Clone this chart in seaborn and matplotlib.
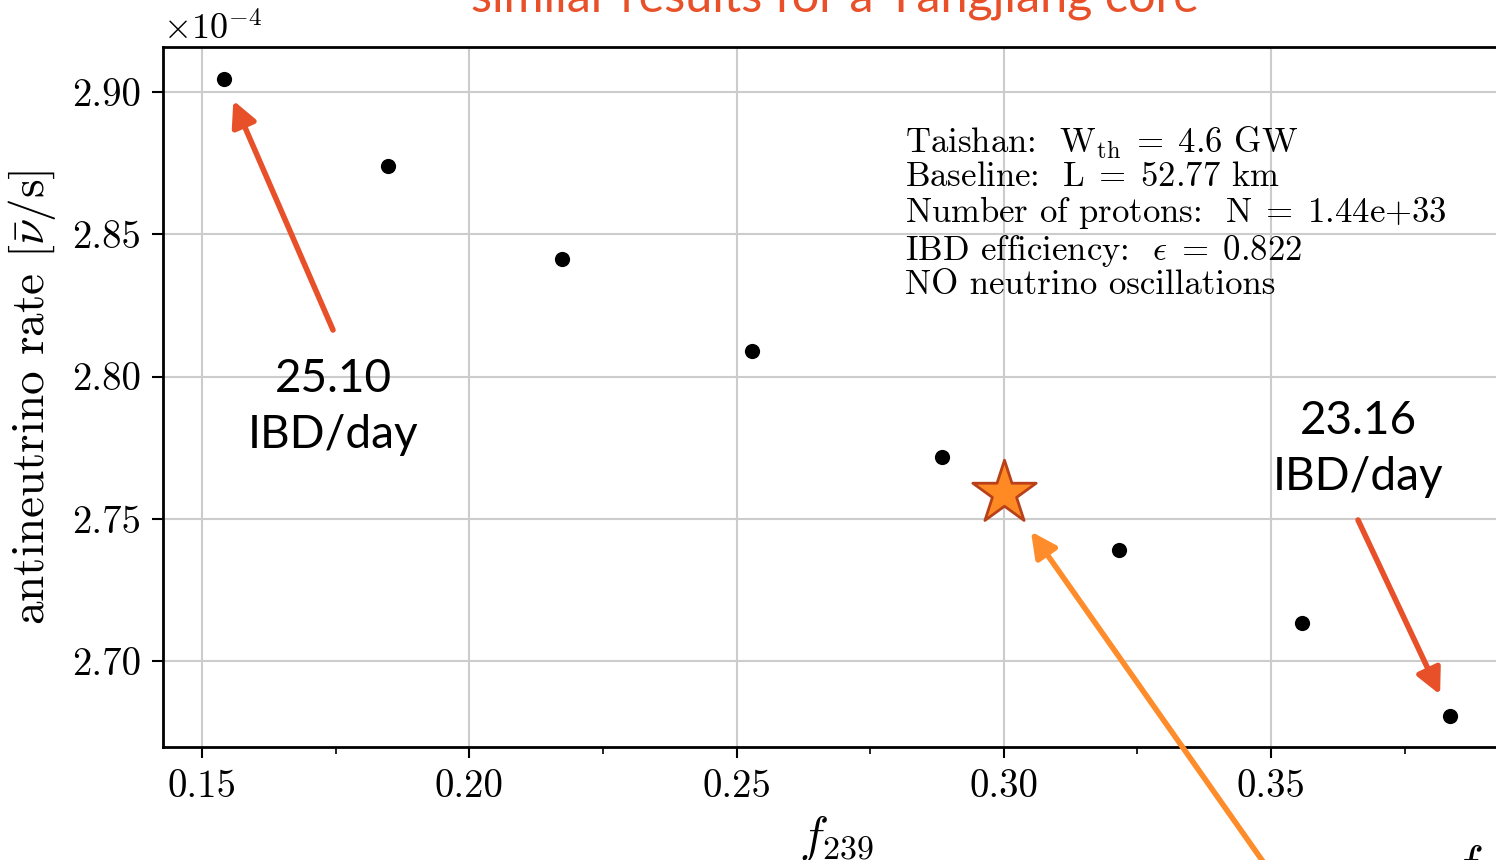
import numpy as np
import pandas as pd
import seaborn as sns
import matplotlib
matplotlib.use("Agg")
import matplotlib.pyplot as plt
from matplotlib.ticker import MultipleLocator

# ---- data ----
f239 = [0.1541, 0.1848, 0.2174, 0.2528, 0.2884, 0.3215, 0.3558, 0.3835]
rate_e4 = [2.9046, 2.8739, 2.8412, 2.8088, 2.7718, 2.7391, 2.7134, 2.6807]
star_f239 = [0.300]
star_rate_e4 = [2.7591]
x_ticks = [0.15, 0.20, 0.25, 0.30, 0.35]
y_ticks = [2.70, 2.75, 2.80, 2.85, 2.90]
label_first = "25.10\nIBD/day"
label_last = "23.16\nIBD/day"
title_text = "similar results for a Yangjiang core"
info_lines = [
    r"Taishan:  $\mathrm{W_{th}}\;=\;4.6$ GW",
    r"Baseline:  $\mathrm{L}\;=\;52.77$ km",
    r"Number of protons:  $\mathrm{N}\;=\;1.44\mathrm{e}{+}33$",
    r"IBD efficiency:  $\epsilon\;=\;0.822$",
    r"NO neutrino oscillations",
]

df = pd.DataFrame({"f239": f239, "rate": np.array(rate_e4) * 1e-4})
star = pd.DataFrame({"f239": star_f239, "rate": np.array(star_rate_e4) * 1e-4})

sns.set_theme(style="whitegrid")
plt.rcParams.update({
    "font.family": ["cmr10"],
    "mathtext.fontset": "cm",
    "axes.formatter.use_mathtext": True,
    "axes.unicode_minus": False,
    "text.color": "black",
    "axes.labelcolor": "black",
    "xtick.color": "black",
    "ytick.color": "black",
})

W, H = 1496, 860
fig = plt.figure(figsize=(W / 100, H / 100), dpi=100)
left, right, top, bottom = 163, 1510, 47, 747
ax = fig.add_axes([left / W, 1 - bottom / H, (right - left) / W, (bottom - top) / H])

sns.scatterplot(data=df, x="f239", y="rate", ax=ax, color="black", s=120,
                edgecolor="black", linewidth=0, zorder=3)
sns.scatterplot(data=star, x="f239", y="rate", ax=ax, marker="*", s=2300,
                color="#FF8A24", edgecolor="#B8401A", linewidth=2, zorder=4)

ax.set_xlim(0.1427, 0.3947)
ax.set_ylim(2.6698e-4, 2.9158e-4)
ax.set_xticks(x_ticks)
ax.set_xticklabels([f"{v:.2f}" for v in x_ticks])
ax.set_yticks(np.array(y_ticks) * 1e-4)
ax.set_yticklabels([f"{v:.2f}" for v in y_ticks])
ax.xaxis.set_minor_locator(MultipleLocator(0.025))
ax.text(0.0, 1.001, r"$\times10^{-4}$", transform=ax.transAxes, fontsize=26,
        ha="left", va="bottom")

ax.grid(True, which="major", color="#cccccc", lw=1.5)
ax.grid(False, which="minor")
ax.set_facecolor("white")
for s in ax.spines.values():
    s.set_color("black")
    s.set_linewidth(2)
ax.tick_params(axis="both", which="major", direction="out", length=8, width=1.5,
               color="black", labelsize=28, pad=8, bottom=True, left=True)
ax.tick_params(axis="x", which="minor", direction="out", length=5, width=1.2,
               color="black", bottom=True)

ax.set_xlabel(r"$f_{239}$", fontsize=35, labelpad=6)
ax.set_ylabel(r"antineutrino rate $[\bar{\nu}/\mathrm{s}]$", fontsize=34, labelpad=10)

ax.text(0.551, 0.889, "\n".join(info_lines), fontsize=25, ha="left", va="top",
        linespacing=1.04, transform=ax.transAxes, zorder=5)

red = "#E8502A"
orange = "#FF8C2A"
ax.annotate("", xy=(f239[0], rate_e4[0] * 1e-4), xytext=(333, H - 330),
            textcoords="figure pixels",
            arrowprops=dict(arrowstyle="-|>", color=red, lw=4, mutation_scale=38,
                            shrinkA=0, shrinkB=17), annotation_clip=False)
fig.text(333 / W, 1 - 407 / H, label_first, family="Lato", fontsize=33,
         ha="center", va="center", linespacing=1.4, color="black")
ax.annotate("", xy=(f239[-1], rate_e4[-1] * 1e-4), xytext=(1358, H - 520),
            textcoords="figure pixels",
            arrowprops=dict(arrowstyle="-|>", color=red, lw=4, mutation_scale=38,
                            shrinkA=0, shrinkB=17), annotation_clip=False)
fig.text(1358 / W, 1 - 449 / H, label_last, family="Lato", fontsize=33,
         ha="center", va="center", linespacing=1.4, color="black")
ax.annotate("", xy=(star_f239[0], star_rate_e4[0] * 1e-4), xytext=(1290, -40),
            textcoords="figure pixels",
            arrowprops=dict(arrowstyle="-|>", color=orange, lw=4, mutation_scale=38,
                            shrinkA=0, shrinkB=34), annotation_clip=False)

fig.text(835 / W, 1 - 12 / H, title_text, family="Lato", fontsize=35, color=red,
         ha="center", va="baseline")
fig.text(1453 / W, -20 / H, r"$f$", fontsize=36, ha="left", va="baseline")

fig.savefig("out.png", dpi=100)
